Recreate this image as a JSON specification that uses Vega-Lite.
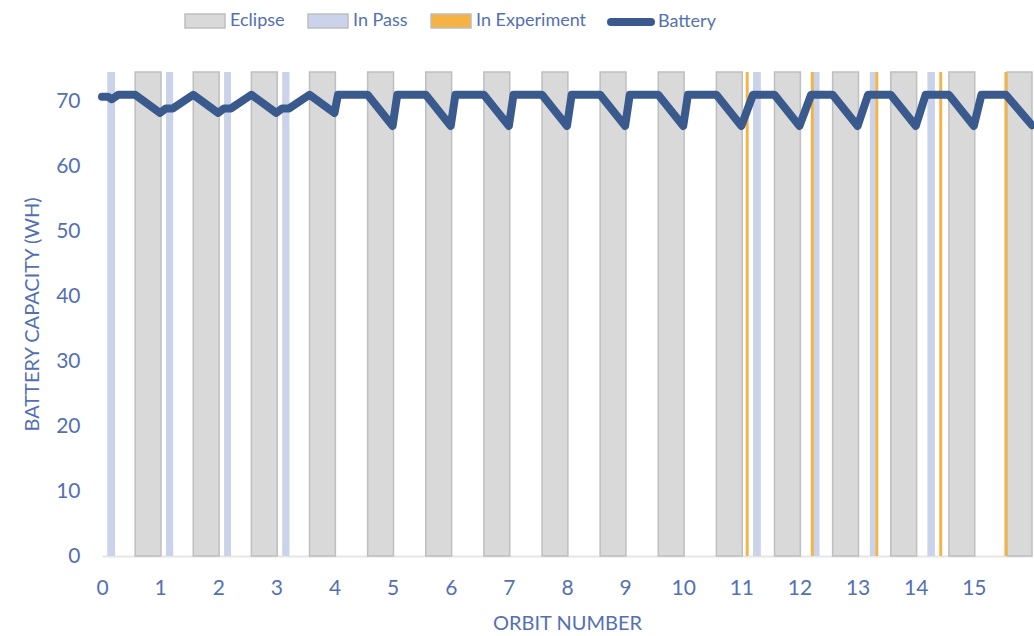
{
  "$schema": "https://vega.github.io/schema/vega-lite/v6.json",
  "autosize": "none",
  "width": 930,
  "height": 484,
  "padding": {"left": 102, "top": 72, "right": 2, "bottom": 80},
  "background": "white",
  "config": {
    "view": {"stroke": null},
    "font": "Lato",
    "axis": {"labelFont": "Lato", "titleFont": "Lato", "labelColor": "#5470b4", "titleColor": "#5470b4", "titleFontWeight": "normal", "grid": false, "ticks": false}
  },
  "datasets": {
    "intervals": [
      {"start": 0.57, "end": 1.015, "type": "Eclipse"},
      {"start": 1.57, "end": 2.015, "type": "Eclipse"},
      {"start": 2.57, "end": 3.015, "type": "Eclipse"},
      {"start": 3.57, "end": 4.015, "type": "Eclipse"},
      {"start": 4.57, "end": 5.015, "type": "Eclipse"},
      {"start": 5.57, "end": 6.015, "type": "Eclipse"},
      {"start": 6.57, "end": 7.015, "type": "Eclipse"},
      {"start": 7.57, "end": 8.015, "type": "Eclipse"},
      {"start": 8.57, "end": 9.015, "type": "Eclipse"},
      {"start": 9.57, "end": 10.015, "type": "Eclipse"},
      {"start": 10.57, "end": 11.015, "type": "Eclipse"},
      {"start": 11.57, "end": 12.015, "type": "Eclipse"},
      {"start": 12.57, "end": 13.015, "type": "Eclipse"},
      {"start": 13.57, "end": 14.015, "type": "Eclipse"},
      {"start": 14.57, "end": 15.015, "type": "Eclipse"},
      {"start": 15.57, "end": 16.0, "type": "Eclipse"}
    ],
    "events": [
      {"start": 0.09, "end": 0.225, "type": "In Pass"},
      {"start": 1.1, "end": 1.225, "type": "In Pass"},
      {"start": 2.1, "end": 2.22, "type": "In Pass"},
      {"start": 3.1, "end": 3.225, "type": "In Pass"},
      {"start": 11.2, "end": 11.335, "type": "In Pass"},
      {"start": 12.23, "end": 12.345, "type": "In Pass"},
      {"start": 13.21, "end": 13.31, "type": "In Pass"},
      {"start": 14.2, "end": 14.33, "type": "In Pass"},
      {"start": 11.075, "end": 11.125, "type": "In Experiment"},
      {"start": 12.195, "end": 12.245, "type": "In Experiment"},
      {"start": 13.305, "end": 13.355, "type": "In Experiment"},
      {"start": 14.405, "end": 14.455, "type": "In Experiment"},
      {"start": 15.525, "end": 15.575, "type": "In Experiment"}
    ],
    "battery": [
      {"orbit": 0, "wh": 70.7}, {"orbit": 0.1, "wh": 70.7}, {"orbit": 0.17, "wh": 70.3}, {"orbit": 0.28, "wh": 71.0},
      {"orbit": 0.57, "wh": 71.0}, {"orbit": 1.0, "wh": 68.2}, {"orbit": 1.1, "wh": 68.9}, {"orbit": 1.22, "wh": 68.9},
      {"orbit": 1.57, "wh": 71.0}, {"orbit": 2.0, "wh": 68.2}, {"orbit": 2.1, "wh": 68.9}, {"orbit": 2.22, "wh": 68.9},
      {"orbit": 2.57, "wh": 71.0}, {"orbit": 3.0, "wh": 68.2}, {"orbit": 3.1, "wh": 68.9}, {"orbit": 3.22, "wh": 68.9},
      {"orbit": 3.57, "wh": 71.0}, {"orbit": 4.0, "wh": 68.2}, {"orbit": 4.06, "wh": 71.0},
      {"orbit": 4.57, "wh": 71.0}, {"orbit": 5.0, "wh": 66.2}, {"orbit": 5.08, "wh": 71.0},
      {"orbit": 5.57, "wh": 71.0}, {"orbit": 6.0, "wh": 66.2}, {"orbit": 6.08, "wh": 71.0},
      {"orbit": 6.57, "wh": 71.0}, {"orbit": 7.0, "wh": 66.2}, {"orbit": 7.08, "wh": 71.0},
      {"orbit": 7.57, "wh": 71.0}, {"orbit": 8.0, "wh": 66.2}, {"orbit": 8.08, "wh": 71.0},
      {"orbit": 8.57, "wh": 71.0}, {"orbit": 9.0, "wh": 66.2}, {"orbit": 9.08, "wh": 71.0},
      {"orbit": 9.57, "wh": 71.0}, {"orbit": 10.0, "wh": 66.2}, {"orbit": 10.08, "wh": 71.0},
      {"orbit": 10.57, "wh": 71.0}, {"orbit": 11.0, "wh": 66.2}, {"orbit": 11.2, "wh": 71.0},
      {"orbit": 11.57, "wh": 71.0}, {"orbit": 12.0, "wh": 66.2}, {"orbit": 12.2, "wh": 71.0},
      {"orbit": 12.57, "wh": 71.0}, {"orbit": 13.0, "wh": 66.2}, {"orbit": 13.18, "wh": 71.0},
      {"orbit": 13.57, "wh": 71.0}, {"orbit": 14.0, "wh": 66.2}, {"orbit": 14.17, "wh": 71.0},
      {"orbit": 14.57, "wh": 71.0}, {"orbit": 15.0, "wh": 66.2}, {"orbit": 15.13, "wh": 71.0},
      {"orbit": 15.55, "wh": 71.0}, {"orbit": 16.0, "wh": 66.3}
    ]
  },
  "layer": [
    {
      "data": {"name": "intervals"},
      "mark": {"type": "rect", "stroke": "#bfbfbf", "strokeWidth": 1.5},
      "encoding": {
        "x": {"field": "start", "type": "quantitative", "scale": {"domain": [0, 16], "nice": false, "zero": false},
              "axis": {"title": "ORBIT NUMBER", "values": [0,1,2,3,4,5,6,7,8,9,10,11,12,13,14,15], "format": "d", "labelFontSize": 21, "titleFontSize": 20, "labelPadding": 21, "titlePadding": 15, "domain": true, "domainColor": "#e6e6e6", "domainWidth": 2, "labelFlush": false}},
        "x2": {"field": "end"},
        "y": {"datum": 74.5, "type": "quantitative", "scale": {"domain": [0, 74.5], "nice": false},
              "axis": {"title": "BATTERY CAPACITY (WH)", "values": [0,10,20,30,40,50,60,70], "labelFontSize": 21, "titleFontSize": 20, "labelPadding": 22, "titlePadding": 13, "domain": false}},
        "y2": {"datum": 0},
        "color": {"field": "type", "type": "nominal",
          "scale": {"domain": ["Eclipse", "In Pass", "In Experiment"], "range": ["#d9d9d9", "#cad3e9", "#f4b343"]},
          "legend": {"title": null, "orient": "none", "legendX": 82, "legendY": -72, "direction": "horizontal",
            "labelFont": "Lato", "labelFontSize": 18, "labelColor": "#5470b4", "labelOffset": 4, "columnPadding": 20,
            "symbolType": "M-1,-0.35L1,-0.35L1,0.35L-1,0.35Z", "symbolSize": 1600, "symbolOpacity": 1,
            "encode": {"symbols": {"update": {
              "fill": {"signal": "scale('color', datum.value)"},
              "stroke": {"signal": "datum.value === 'Eclipse' ? '#bfbfbf' : scale('color', datum.value)"},
              "strokeWidth": {"value": 1.5},
              "opacity": {"value": 1}
            }}}}
        }
      }
    },
    {
      "data": {"name": "events"},
      "mark": {"type": "rect"},
      "encoding": {
        "x": {"field": "start", "type": "quantitative"},
        "x2": {"field": "end"},
        "y": {"datum": 74.5, "type": "quantitative"},
        "y2": {"datum": 0},
        "color": {"field": "type", "type": "nominal"}
      }
    },
    {
      "data": {"name": "battery"},
      "mark": {"type": "line", "strokeWidth": 8, "strokeJoin": "round", "strokeCap": "round"},
      "encoding": {
        "x": {"field": "orbit", "type": "quantitative"},
        "y": {"field": "wh", "type": "quantitative"},
        "stroke": {"datum": "Battery", "type": "nominal",
          "scale": {"domain": ["Battery"], "range": ["#3a5a8e"]},
          "legend": {"title": null, "orient": "none", "legendX": 505, "legendY": -74, "direction": "horizontal",
            "labelFont": "Lato", "labelFontSize": 18, "labelColor": "#5470b4", "labelOffset": 3,
            "symbolType": "stroke", "symbolSize": 1600, "symbolStrokeWidth": 8,
            "encode": {"symbols": {"update": {"strokeCap": {"value": "round"}}}}}}
      }
    }
  ]
}
